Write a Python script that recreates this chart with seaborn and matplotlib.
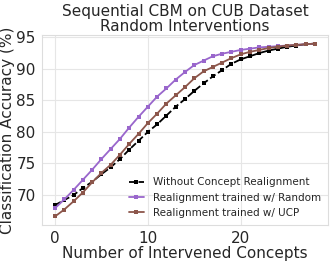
import numpy as np
import pandas as pd
import matplotlib
matplotlib.use("Agg")
import matplotlib.pyplot as plt
import seaborn as sns

n_concepts = list(range(29))
acc_without = [68.4, 69.2, 70.0, 71.1, 72.1, 73.3, 74.4, 75.7, 77.2, 78.6,
               80.0, 81.2, 82.6, 84.0, 85.2, 86.5, 87.7, 88.8, 89.8, 90.8,
               91.5, 92.0, 92.5, 92.9, 93.2, 93.5, 93.7, 93.9, 94.0]
acc_random = [67.9, 69.3, 70.8, 72.4, 74.0, 75.7, 77.3, 78.9, 80.7, 82.4,
              84.0, 85.6, 86.9, 88.3, 89.5, 90.6, 91.3, 92.0, 92.4, 92.7,
              93.0, 93.2, 93.4, 93.5, 93.6, 93.7, 93.8, 93.9, 94.0]
acc_ucp = [66.6, 67.7, 69.0, 70.4, 72.0, 73.5, 74.8, 76.4, 78.1, 79.7,
           81.4, 82.9, 84.5, 85.8, 87.1, 88.5, 89.6, 90.3, 91.0, 91.7,
           92.3, 92.7, 93.0, 93.3, 93.5, 93.7, 93.8, 93.9, 94.0]

labels = ["Without Concept Realignment",
          "Realignment trained w/ Random",
          "Realignment trained w/ UCP"]
colors = ["black", "#9966cc", "#8c564b"]
styles = ["--", "-", "-"]

sns.set_style("whitegrid", {"grid.color": "#e6e6e6", "axes.edgecolor": "#dddddd"})

fig, ax = plt.subplots(figsize=(3.33, 2.63), dpi=100)
for vals, lab, c, ls in zip([acc_without, acc_random, acc_ucp], labels, colors, styles):
    sns.lineplot(x=n_concepts, y=vals, ax=ax, color=c, label=lab, marker="s",
                 markersize=3.2, linewidth=1.3, linestyle=ls, markeredgewidth=0)

ax.set_title("Sequential CBM on CUB Dataset\nRandom Interventions", fontsize=11, pad=3, linespacing=0.95)
ax.set_xlabel("Number of Intervened Concepts", fontsize=11, labelpad=0)
ax.set_ylabel("Classification Accuracy (%)", fontsize=11, labelpad=1)
ax.tick_params(labelsize=11, pad=1)
ax.set_xticks([0, 10, 20])
ax.set_yticks([70, 75, 80, 85, 90, 95])
ax.legend(loc="lower right", fontsize=7.5, frameon=False, handlelength=1.5,
          borderaxespad=0.3, labelspacing=0.5, handletextpad=0.8)

fig.subplots_adjust(left=0.126, right=0.985, top=0.867, bottom=0.144)
fig.savefig("out.png", dpi=100)
